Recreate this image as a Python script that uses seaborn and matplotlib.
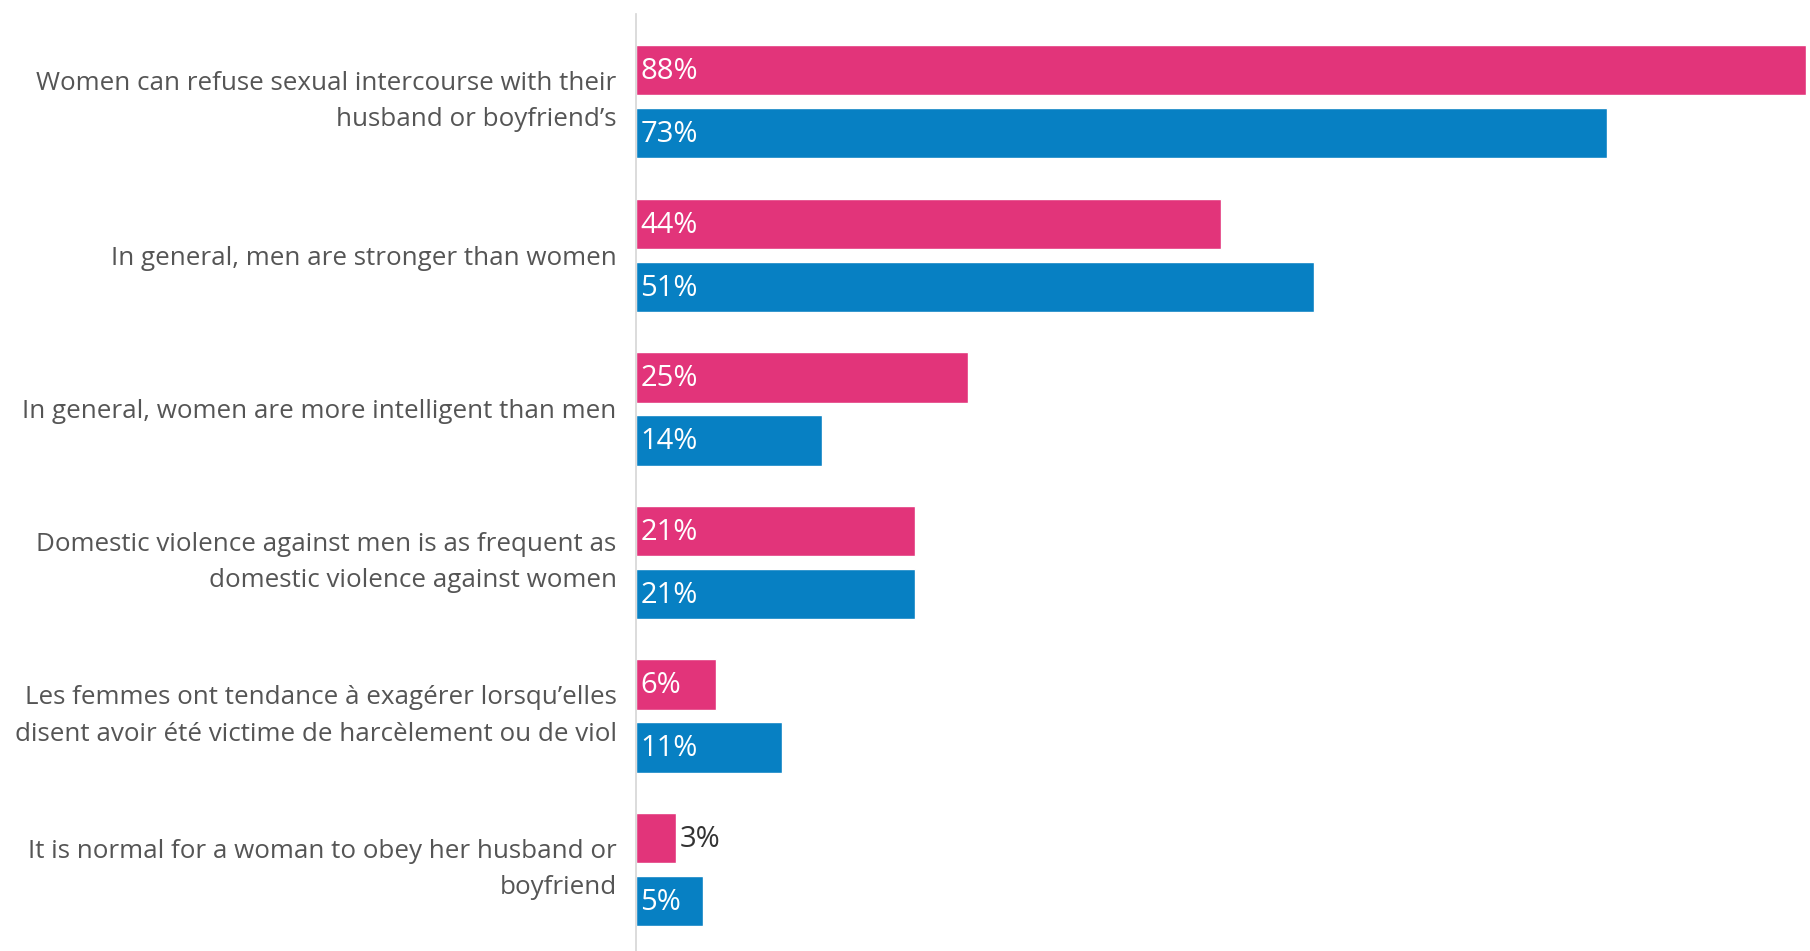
import matplotlib
matplotlib.use("Agg")
import matplotlib.pyplot as plt
import pandas as pd
import seaborn as sns

# statements (y axis)
statements = [
    "Women can refuse sexual intercourse with their\nhusband or boyfriend\u2019s",
    "In general, men are stronger than women",
    "In general, women are more intelligent than men",
    "Domestic violence against men is as frequent as\ndomestic violence against women",
    "Les femmes ont tendance \u00e0 exag\u00e9rer lorsqu\u2019elles\ndisent avoir \u00e9t\u00e9 victime de harc\u00e8lement ou de viol",
    "It is normal for a woman to obey her husband or\nboyfriend",
]
series = ["Women", "Men"]
women_pct = [88, 44, 25, 21, 6, 3]
men_pct = [73, 51, 14, 21, 11, 5]
colors = ["#E2347A", "#0780C3"]

df = pd.DataFrame({
    "statement": statements * 2,
    "group": [series[0]] * len(statements) + [series[1]] * len(statements),
    "pct": women_pct + men_pct,
})

sns.set_theme(style="white")
plt.rcParams["font.family"] = ["Open Sans", "DejaVu Sans"]

fig = plt.figure(figsize=(18.10, 9.51), dpi=100)
ax = fig.add_axes([0.3514, 0.0, 0.6486, 0.985])

sns.barplot(data=df, y="statement", x="pct", hue="group", palette=colors,
            orient="h", width=0.82, gap=0.2, saturation=1, legend=False, ax=ax)

ax.set_xlim(0, 88.3)
ax.set_ylim(5.53, -0.57)
ax.set_xlabel("")
ax.set_ylabel("")
ax.set_xticks([])
ax.tick_params(axis="y", length=0, pad=14, labelsize=18.7, labelcolor="#555555")
for lbl in ax.get_yticklabels():
    lbl.set_multialignment("right")
    lbl.set_linespacing(1.6)
    if "\n" in lbl.get_text():
        lbl.set_verticalalignment("center")

for side in ["top", "right", "bottom"]:
    ax.spines[side].set_visible(False)
ax.spines["left"].set_color("#d5d5d5")
ax.spines["left"].set_linewidth(1.2)

for cont in ax.containers:
    for bar in cont:
        w = bar.get_width()
        yc = bar.get_y() + bar.get_height() / 2
        txt = f"{w:.0f}%"
        if w >= 5:
            ax.annotate(txt, (0, yc), xytext=(3, -1), textcoords="offset points",
                        ha="left", va="center", color="white", fontsize=21)
        else:
            ax.annotate(txt, (w, yc), xytext=(3, -1), textcoords="offset points",
                        ha="left", va="center", color="#333333", fontsize=21)

fig.savefig("out.png", dpi=100)
